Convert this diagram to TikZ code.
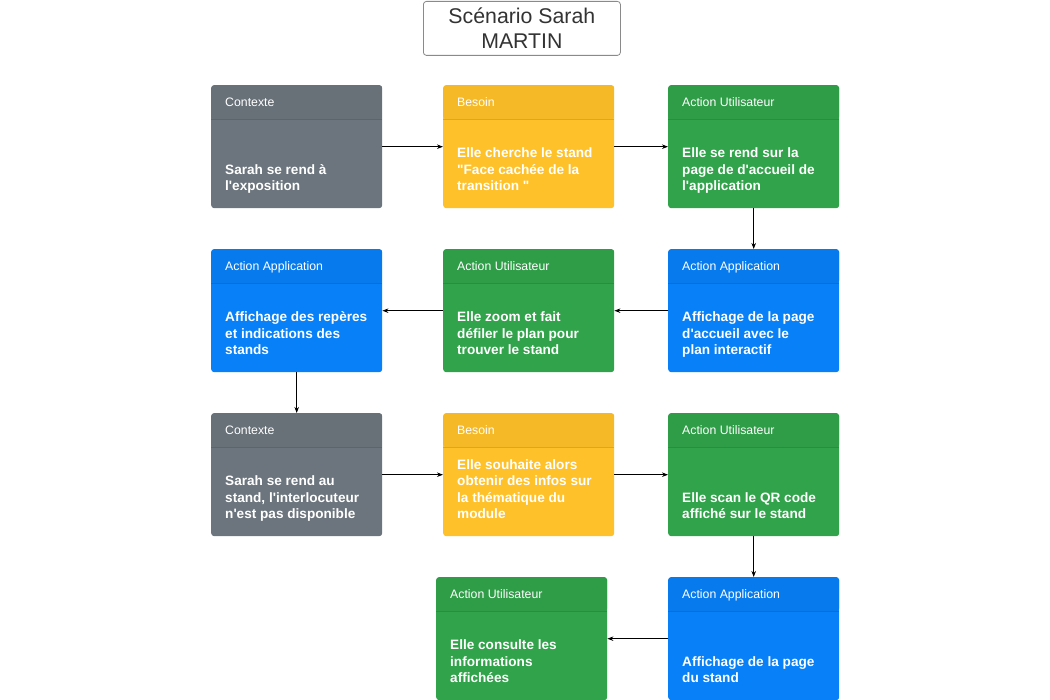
\documentclass[tikz,border=0pt]{standalone}
\usepackage{fontspec}
\setmainfont{Liberation Sans}[Ligatures=TeXOff]
\usetikzlibrary{arrows.meta}

\definecolor{cgrey}{HTML}{6C757D}
\definecolor{cyellow}{HTML}{FFC12A}
\definecolor{cgreen}{HTML}{31A34A}
\definecolor{cblue}{HTML}{0780F8}
\definecolor{titleborder}{HTML}{8A8A8A}
\definecolor{titletext}{HTML}{333333}

\tikzset{
  cardbox/.style={draw=none, rounded corners=3pt, minimum width=171pt,
    minimum height=123pt, inner sep=0pt, anchor=north west},
  hdrtext/.style={anchor=west, inner sep=0pt, text=white,
    font=\fontsize{12.3}{14}\selectfont, text height=8.8pt, text depth=0pt},
  bodytext/.style={anchor=south west, inner sep=0pt, text=white, align=left,
    font=\fontsize{13.6}{16.5}\selectfont\bfseries},
  link/.style={draw=black, line width=0.8pt,
    -{Stealth[length=6pt, width=4.5pt]}},
}

% \cardnode{name}{left}{top}{colour}{header}{body}
\newcommand\cardnode[6]{%
  \node[cardbox, fill=#4,
    path picture={
      \fill[#4!96!black] (path picture bounding box.north west)
        rectangle ([yshift=-34pt]path picture bounding box.north east);
      \draw[#4!86!black, line width=0.6pt]
        ([yshift=-34pt]path picture bounding box.north west)
        -- ([yshift=-34pt]path picture bounding box.north east);
    }] (#1) at (#2,#3) {};
  \node[hdrtext] (#1-h) at (#2+14,#3+17) {#5};
  \node[bodytext] (#1-b) at (#2+14,#3+123-12) {#6\strut};
}

\begin{document}
\begin{tikzpicture}[x=1pt, y=-1pt]
  \useasboundingbox (0,0) rectangle (1050,700);

  % title
  \node[draw=titleborder, line width=0.8pt, rounded corners=3pt, fill=white,
    minimum width=197pt, minimum height=54pt, inner sep=0pt, align=center,
    text=titletext, font=\fontsize{21.3}{25}\selectfont, anchor=north west]
    (title) at (423,1) {Scénario Sarah\\MARTIN};

  % row 1
  \cardnode{c11}{211}{85}{cgrey}{Contexte}{Sarah se rend à\\l'exposition}
  \cardnode{c12}{443}{85}{cyellow}{Besoin}{Elle cherche le stand\\"Face cachée de la\\transition "}
  \cardnode{c13}{668}{85}{cgreen}{Action Utilisateur}{Elle se rend sur la\\page de d'accueil de\\l'application}

  % row 2
  \cardnode{c21}{211}{249}{cblue}{Action Application}{Affichage des repères\\et indications des\\stands}
  \cardnode{c22}{443}{249}{cgreen}{Action Utilisateur}{Elle zoom et fait\\défiler le plan pour\\trouver le stand}
  \cardnode{c23}{668}{249}{cblue}{Action Application}{Affichage de la page\\d'accueil avec le\\plan interactif}

  % row 3
  \cardnode{c31}{211}{413}{cgrey}{Contexte}{Sarah se rend au\\stand, l'interlocuteur\\n'est pas disponible}
  \cardnode{c32}{443}{413}{cyellow}{Besoin}{Elle souhaite alors\\obtenir des infos sur\\la thématique du\\module}
  \cardnode{c33}{668}{413}{cgreen}{Action Utilisateur}{Elle scan le QR code\\affiché sur le stand}

  % row 4
  \cardnode{c42}{436}{577}{cgreen}{Action Utilisateur}{Elle consulte les\\informations\\affichées}
  \cardnode{c43}{668}{577}{cblue}{Action Application}{Affichage de la page\\du stand}

  % connectors
  \draw[link] (c11.east) -- (c12.west);
  \draw[link] (c12.east) -- (c13.west);
  \draw[link] (c13.south) -- (c23.north);
  \draw[link] (c23.west) -- (c22.east);
  \draw[link] (c22.west) -- (c21.east);
  \draw[link] (c21.south) -- (c31.north);
  \draw[link] (c31.east) -- (c32.west);
  \draw[link] (c32.east) -- (c33.west);
  \draw[link] (c33.south) -- (c43.north);
  \draw[link] (c43.west) -- (c42.east);
\end{tikzpicture}
\end{document}
